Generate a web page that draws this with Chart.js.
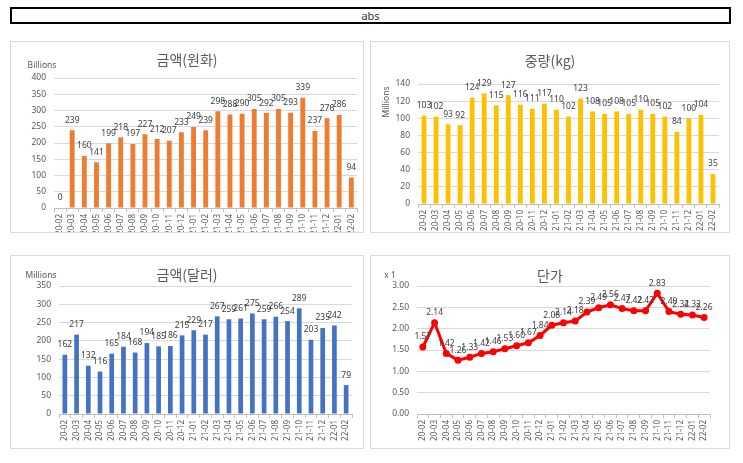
<!DOCTYPE html>
<html>
<head>
<meta charset="utf-8">
<script src="https://cdn.jsdelivr.net/npm/chart.js@4.4.1/dist/chart.umd.min.js"></script>
<style>
    body { margin: 0; background: #fff; width: 743px; height: 463px; position: relative; overflow: hidden; font-family: "Noto Sans", sans-serif; }
    #header { position: absolute; left: 10px; top: 7px; width: 717px; height: 13px; border: 2px solid #000; font-size: 11px; line-height: 13px; text-align: center; color: #333; }
    .panel { position: absolute; border: 1px solid #d9d9d9; }
    .panel canvas { display: block; }
</style>
</head>
<body>
<div id="header">abs</div>
<div class="panel" style="left:10px; top:41px;"><canvas id="krwChart" width="352" height="190"></canvas></div>
<div class="panel" style="left:370px; top:41px;"><canvas id="kgChart" width="358" height="190"></canvas></div>
<div class="panel" style="left:10px; top:255px;"><canvas id="usdChart" width="352" height="192"></canvas></div>
<div class="panel" style="left:370px; top:255px;"><canvas id="priceChart" width="358" height="192"></canvas></div>

<script>
// ==================== DONNÉES ====================

const months = [
    "20-02", "20-03", "20-04", "20-05", "20-06", "20-07", "20-08", "20-09", "20-10", "20-11", "20-12",
    "21-01", "21-02", "21-03", "21-04", "21-05", "21-06", "21-07", "21-08", "21-09", "21-10", "21-11", "21-12",
    "22-01", "22-02"
];

// 금액(원화) - Billions
const krwValues = [0, 239, 160, 141, 199, 218, 197, 227, 212, 207, 233, 249, 239, 298, 288, 290, 305, 292, 305, 293, 339, 237, 276, 286, 94];

// 중량(kg) - Millions
const kgValues = [103, 102, 93, 92, 124, 129, 115, 127, 116, 111, 117, 110, 102, 123, 108, 105, 108, 105, 110, 105, 102, 84, 100, 104, 35];

// 금액(달러) - Millions
const usdValues = [162, 217, 132, 116, 165, 184, 168, 194, 185, 186, 215, 229, 217, 267, 259, 261, 275, 259, 266, 254, 289, 203, 235, 242, 79];

// 단가
const priceValues = [1.57, 2.14, 1.42, 1.26, 1.33, 1.42, 1.46, 1.53, 1.60, 1.67, 1.84, 2.08, 2.14, 2.18, 2.39, 2.49, 2.56, 2.47, 2.42, 2.42, 2.83, 2.40, 2.34, 2.32, 2.26];

// GRADUATIONS DES AXES Y
const krwTicks = [0, 50, 100, 150, 200, 250, 300, 350, 400];
const kgTicks = [0, 20, 40, 60, 80, 100, 120, 140];
const usdTicks = [0, 50, 100, 150, 200, 250, 300, 350];
const priceTicks = [0, 0.5, 1, 1.5, 2, 2.5, 3];

// ==================== PLUGINS ====================

// ÉTIQUETTES DE VALEURS AU-DESSUS DES BARRES / POINTS
const valueLabels = {
    id: "valueLabels",
    afterDatasetsDraw(chart, args, opts) {
        const ctx = chart.ctx;
        const ds = chart.data.datasets[0];
        const meta = chart.getDatasetMeta(0);
        ctx.save();
        ctx.font = "8.5px 'Noto Sans'";
        ctx.fillStyle = "#404040";
        ctx.textAlign = "center";
        ctx.textBaseline = "middle";
        meta.data.forEach((el, i) => {
            const v = ds.data[i];
            const txt = opts.decimals ? v.toFixed(opts.decimals) : String(v);
            ctx.fillText(txt, el.x, el.y - 10);
        });
        ctx.restore();
    }
};

// TITRE + UNITÉ
const panelText = {
    id: "panelText",
    afterDraw(chart, args, opts) {
        const ctx = chart.ctx;
        ctx.save();
        ctx.fillStyle = "#595959";
        ctx.textAlign = "center";
        ctx.textBaseline = "middle";
        ctx.font = "14px 'Noto Sans CJK KR'";
        ctx.fillText(opts.title, chart.width / 2, opts.titleY);

        ctx.font = "8.5px 'Noto Sans'";
        if (opts.unitRotate) {
            ctx.translate(opts.unitX, opts.unitY);
            ctx.rotate(-Math.PI / 2);
            ctx.fillText(opts.unit, 0, 0);
        } else {
            ctx.fillText(opts.unit, opts.unitX, opts.unitY);
        }
        ctx.restore();
    }
};

// ==================== CONSTRUCTION ====================

function makeChart(id, cfg) {
    const canvas = document.getElementById(id);
    const H = canvas.height;
    const W = canvas.width;
    const area = cfg.area;
    const isLine = cfg.type === "line";

    const dataset = isLine ? {
        data: cfg.values,
        borderColor: cfg.color,
        backgroundColor: cfg.color,
        borderWidth: 3,
        pointRadius: 3.5,
        pointBackgroundColor: cfg.color,
        pointBorderWidth: 0,
        tension: 0
    } : {
        data: cfg.values,
        backgroundColor: cfg.color,
        borderWidth: 0,
        barPercentage: 0.4,
        categoryPercentage: 1
    };

    return new Chart(canvas, {
        type: cfg.type,
        data: {
            labels: months,
            datasets: [dataset]
        },
        options: {
            responsive: false,
            animation: false,
            layout: {
                padding: { left: 0, top: area.top, right: W - area.right, bottom: 0 }
            },
            plugins: {
                legend: { display: false },
                title: { display: false },
                tooltip: { enabled: false },
                valueLabels: { decimals: cfg.decimals },
                panelText: cfg.text
            },
            scales: {
                x: {
                    offset: true,
                    grid: {
                        display: true,
                        offset: true,
                        drawOnChartArea: false,
                        drawTicks: true,
                        tickLength: 4,
                        color: "#bfbfbf"
                    },
                    border: { display: true, color: "#bfbfbf" },
                    ticks: {
                        autoSkip: false,
                        minRotation: 90,
                        maxRotation: 90,
                        padding: 2,
                        color: "#595959",
                        font: { family: "Noto Sans", size: 8 }
                    },
                    afterFit(axis) { axis.height = H - area.bottom; }
                },
                y: {
                    min: cfg.ticks[0],
                    max: cfg.ticks[cfg.ticks.length - 1],
                    afterBuildTicks(axis) { axis.ticks = cfg.ticks.map(v => ({ value: v })); },
                    grid: { color: "#d9d9d9", drawTicks: false },
                    border: { display: false },
                    ticks: {
                        padding: 8,
                        color: "#595959",
                        font: { family: "Noto Sans", size: 8.5 },
                        callback: v => cfg.decimals ? Number(v).toFixed(cfg.decimals) : v
                    },
                    afterFit(axis) { axis.width = area.left; }
                }
            }
        },
        plugins: [valueLabels, panelText]
    });
}

makeChart("krwChart", {
    type: "bar",
    values: krwValues,
    ticks: krwTicks,
    color: "#ED7D31",
    area: { left: 43, top: 36, right: 348, bottom: 166 },
    text: { title: "금액(원화)", titleY: 18, unit: "Billions", unitX: 31, unitY: 24 }
});

makeChart("kgChart", {
    type: "bar",
    values: kgValues,
    ticks: kgTicks,
    color: "#FFC000",
    area: { left: 47, top: 42, right: 348, bottom: 162 },
    text: { title: "중량(kg)", titleY: 19, unit: "Millions", unitX: 16, unitY: 60, unitRotate: true }
});

makeChart("usdChart", {
    type: "bar",
    values: usdValues,
    ticks: usdTicks,
    color: "#4472C4",
    area: { left: 48, top: 30, right: 341, bottom: 158 },
    text: { title: "금액(달러)", titleY: 19, unit: "Millions", unitX: 30, unitY: 20 }
});

makeChart("priceChart", {
    type: "line",
    values: priceValues,
    ticks: priceTicks,
    decimals: 2,
    color: "#FF0000",
    area: { left: 46, top: 30, right: 339, bottom: 158 },
    text: { title: "단가", titleY: 20, unit: "x 1", unitX: 19, unitY: 20 }
});
</script>
</body>
</html>
